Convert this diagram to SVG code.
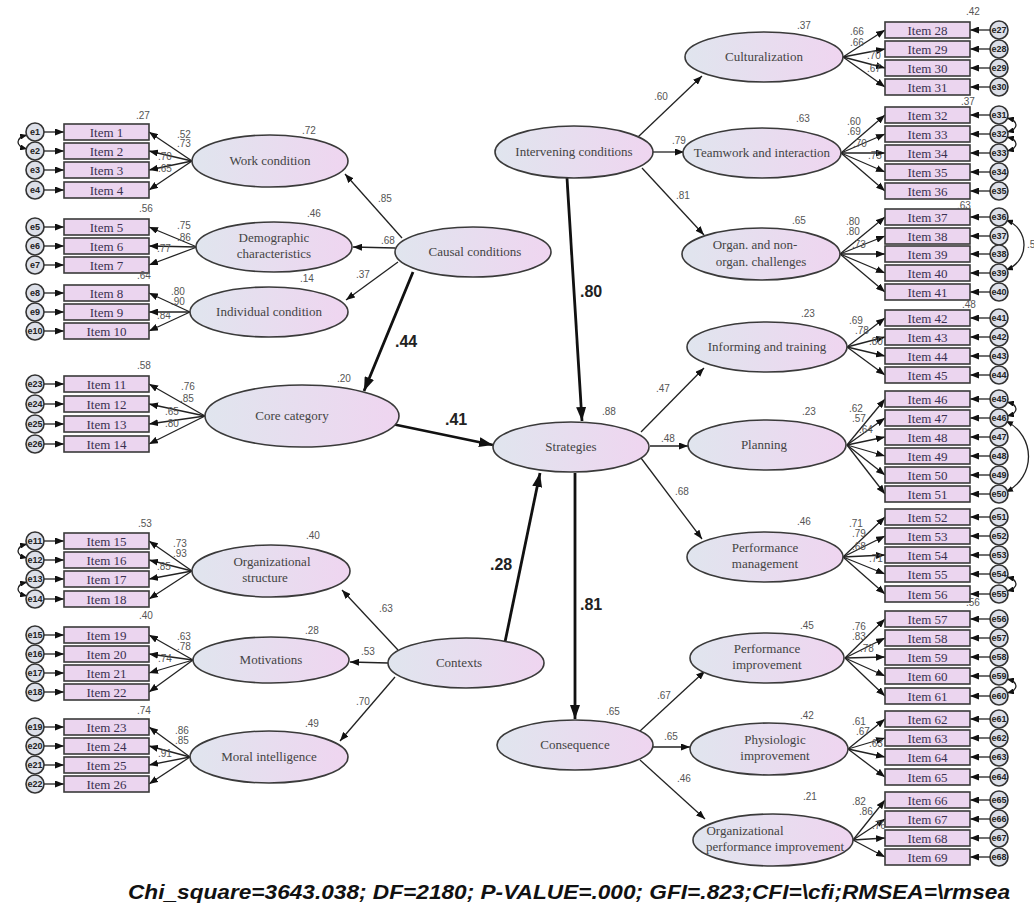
<svg xmlns="http://www.w3.org/2000/svg" width="1034" height="910" viewBox="0 0 1034 910">
<defs>
<linearGradient id="lg" x1="0" y1="0" x2="1" y2="0"><stop offset="0" stop-color="#e0e5ee"/><stop offset="1" stop-color="#efd5f0"/></linearGradient>
<marker id="ah" viewBox="0 0 10 10" refX="10" refY="5" markerWidth="9" markerHeight="7" markerUnits="userSpaceOnUse" orient="auto-start-reverse" preserveAspectRatio="none"><path d="M0,0 L10,5 L0,10 z" fill="#111"/></marker>
<marker id="ahb" viewBox="0 0 10 10" refX="10" refY="5" markerWidth="14" markerHeight="10" markerUnits="userSpaceOnUse" orient="auto" preserveAspectRatio="none"><path d="M0,0 L10,5 L0,10 z" fill="#111"/></marker>
<marker id="ahs" viewBox="0 0 10 10" refX="10" refY="5" markerWidth="7" markerHeight="6" markerUnits="userSpaceOnUse" orient="auto-start-reverse" preserveAspectRatio="none"><path d="M0,0 L10,5 L0,10 z" fill="#111"/></marker>
</defs>
<style>
.lat{fill:url(#lg);stroke:#3a3a3a;stroke-width:1.6}
.box{fill:#ebd5ef;stroke:#3a3a3a;stroke-width:1.6}
.err{fill:#dcdfe8;stroke:#333;stroke-width:1.6}
.lt{font-family:"Liberation Serif",serif;font-size:13px;fill:#444;text-anchor:middle}
.it{font-family:"Liberation Serif",serif;font-size:13px;fill:#3a3050;text-anchor:middle}
.et{font-family:"Liberation Sans",sans-serif;font-size:9px;fill:#222;text-anchor:middle;font-weight:bold}
.n{font-family:"Liberation Sans",sans-serif;font-size:10px;fill:#555}
.nb{font-family:"Liberation Sans",sans-serif;font-size:16px;font-weight:bold;fill:#222}
.c{stroke:#222;stroke-width:1.3;fill:none;marker-end:url(#ah)}
.ct{stroke:#111;stroke-width:2.8;fill:none;marker-end:url(#ahb)}
.cr{stroke:#222;stroke-width:1.3;fill:none;marker-start:url(#ahs);marker-end:url(#ahs)}
.ttl{font-family:"Liberation Sans",sans-serif;font-size:21px;font-weight:bold;font-style:italic;fill:#111}
</style>
<rect width="1034" height="910" fill="#fff"/>
<g id="connectors">
<line class="c" x1="402" y1="238" x2="345" y2="174"/>
<line class="c" x1="395" y1="248" x2="353" y2="247"/>
<line class="c" x1="398" y1="262" x2="346" y2="300"/>
<line class="ct" x1="413" y1="272" x2="364" y2="391"/>
<line class="ct" x1="567" y1="178" x2="582" y2="421"/>
<line class="ct" x1="392" y1="424" x2="493" y2="445"/>
<line class="ct" x1="505" y1="642" x2="540" y2="473"/>
<line class="ct" x1="575" y1="473" x2="575" y2="719"/>
<line class="c" x1="398" y1="650" x2="342" y2="590"/>
<line class="c" x1="388" y1="663" x2="350" y2="662"/>
<line class="c" x1="395" y1="677" x2="340" y2="741"/>
<line class="c" x1="638" y1="137" x2="702" y2="76"/>
<line class="c" x1="653" y1="152" x2="684" y2="152"/>
<line class="c" x1="642" y1="168" x2="704" y2="235"/>
<line class="c" x1="641" y1="432" x2="704" y2="368"/>
<line class="c" x1="650" y1="446" x2="688" y2="446"/>
<line class="c" x1="641" y1="458" x2="702" y2="539"/>
<line class="c" x1="640" y1="731" x2="705" y2="671"/>
<line class="c" x1="653" y1="747" x2="690" y2="747"/>
<line class="c" x1="640" y1="760" x2="705" y2="819"/>
<line class="c" x1="192" y1="161" x2="149" y2="132"/><line class="c" x1="192" y1="161" x2="149" y2="151"/><line class="c" x1="192" y1="161" x2="149" y2="170"/><line class="c" x1="192" y1="161" x2="149" y2="190"/>
<line class="c" x1="197" y1="247" x2="149" y2="227"/><line class="c" x1="197" y1="247" x2="149" y2="246"/><line class="c" x1="197" y1="247" x2="149" y2="265"/>
<line class="c" x1="190" y1="312" x2="149" y2="293"/><line class="c" x1="190" y1="312" x2="149" y2="312"/><line class="c" x1="190" y1="312" x2="149" y2="331"/>
<line class="c" x1="205" y1="416" x2="149" y2="384"/><line class="c" x1="205" y1="416" x2="149" y2="404"/><line class="c" x1="205" y1="416" x2="149" y2="424"/><line class="c" x1="205" y1="416" x2="149" y2="444"/>
<line class="c" x1="192" y1="571" x2="149" y2="541"/><line class="c" x1="192" y1="571" x2="149" y2="560"/><line class="c" x1="192" y1="571" x2="149" y2="579"/><line class="c" x1="192" y1="571" x2="149" y2="599"/>
<line class="c" x1="193" y1="660" x2="149" y2="635"/><line class="c" x1="193" y1="660" x2="149" y2="654"/><line class="c" x1="193" y1="660" x2="149" y2="673"/><line class="c" x1="193" y1="660" x2="149" y2="692"/>
<line class="c" x1="190" y1="757" x2="149" y2="727"/><line class="c" x1="190" y1="757" x2="149" y2="746"/><line class="c" x1="190" y1="757" x2="149" y2="765"/><line class="c" x1="190" y1="757" x2="149" y2="784"/>
<line class="c" x1="44" y1="132" x2="64" y2="132"/><line class="c" x1="44" y1="151" x2="64" y2="151"/><line class="c" x1="44" y1="170" x2="64" y2="170"/><line class="c" x1="44" y1="190" x2="64" y2="190"/>
<line class="c" x1="44" y1="227" x2="64" y2="227"/><line class="c" x1="44" y1="246" x2="64" y2="246"/><line class="c" x1="44" y1="265" x2="64" y2="265"/>
<line class="c" x1="44" y1="293" x2="64" y2="293"/><line class="c" x1="44" y1="312" x2="64" y2="312"/><line class="c" x1="44" y1="331" x2="64" y2="331"/>
<line class="c" x1="44" y1="384" x2="64" y2="384"/><line class="c" x1="44" y1="404" x2="64" y2="404"/><line class="c" x1="44" y1="424" x2="64" y2="424"/><line class="c" x1="44" y1="444" x2="64" y2="444"/>
<line class="c" x1="44" y1="541" x2="64" y2="541"/><line class="c" x1="44" y1="560" x2="64" y2="560"/><line class="c" x1="44" y1="579" x2="64" y2="579"/><line class="c" x1="44" y1="599" x2="64" y2="599"/>
<line class="c" x1="44" y1="635" x2="64" y2="635"/><line class="c" x1="44" y1="654" x2="64" y2="654"/><line class="c" x1="44" y1="673" x2="64" y2="673"/><line class="c" x1="44" y1="692" x2="64" y2="692"/>
<line class="c" x1="44" y1="727" x2="64" y2="727"/><line class="c" x1="44" y1="746" x2="64" y2="746"/><line class="c" x1="44" y1="765" x2="64" y2="765"/><line class="c" x1="44" y1="784" x2="64" y2="784"/>
<line class="c" x1="843" y1="57" x2="885" y2="30"/><line class="c" x1="843" y1="57" x2="885" y2="49"/><line class="c" x1="843" y1="57" x2="885" y2="68"/><line class="c" x1="843" y1="57" x2="885" y2="87"/>
<line class="c" x1="841" y1="153" x2="885" y2="115"/><line class="c" x1="841" y1="153" x2="885" y2="134"/><line class="c" x1="841" y1="153" x2="885" y2="153"/><line class="c" x1="841" y1="153" x2="885" y2="172"/><line class="c" x1="841" y1="153" x2="885" y2="191"/>
<line class="c" x1="840" y1="254" x2="885" y2="217"/><line class="c" x1="840" y1="254" x2="885" y2="236"/><line class="c" x1="840" y1="254" x2="885" y2="254"/><line class="c" x1="840" y1="254" x2="885" y2="273"/><line class="c" x1="840" y1="254" x2="885" y2="292"/>
<line class="c" x1="847" y1="347" x2="885" y2="318"/><line class="c" x1="847" y1="347" x2="885" y2="337"/><line class="c" x1="847" y1="347" x2="885" y2="356"/><line class="c" x1="847" y1="347" x2="885" y2="375"/>
<line class="c" x1="847" y1="445" x2="885" y2="399"/><line class="c" x1="847" y1="445" x2="885" y2="418"/><line class="c" x1="847" y1="445" x2="885" y2="437"/><line class="c" x1="847" y1="445" x2="885" y2="456"/><line class="c" x1="847" y1="445" x2="885" y2="475"/><line class="c" x1="847" y1="445" x2="885" y2="494"/>
<line class="c" x1="843" y1="557" x2="885" y2="517"/><line class="c" x1="843" y1="557" x2="885" y2="536"/><line class="c" x1="843" y1="557" x2="885" y2="555"/><line class="c" x1="843" y1="557" x2="885" y2="574"/><line class="c" x1="843" y1="557" x2="885" y2="594"/>
<line class="c" x1="845" y1="658" x2="885" y2="619"/><line class="c" x1="845" y1="658" x2="885" y2="638"/><line class="c" x1="845" y1="658" x2="885" y2="657"/><line class="c" x1="845" y1="658" x2="885" y2="676"/><line class="c" x1="845" y1="658" x2="885" y2="696"/>
<line class="c" x1="848" y1="749" x2="885" y2="719"/><line class="c" x1="848" y1="749" x2="885" y2="738"/><line class="c" x1="848" y1="749" x2="885" y2="757"/><line class="c" x1="848" y1="749" x2="885" y2="777"/>
<line class="c" x1="853" y1="840" x2="885" y2="800"/><line class="c" x1="853" y1="840" x2="885" y2="819"/><line class="c" x1="853" y1="840" x2="885" y2="838"/><line class="c" x1="853" y1="840" x2="885" y2="857"/>
<line class="c" x1="990" y1="30" x2="970" y2="30"/><line class="c" x1="990" y1="49" x2="970" y2="49"/><line class="c" x1="990" y1="68" x2="970" y2="68"/><line class="c" x1="990" y1="87" x2="970" y2="87"/>
<line class="c" x1="990" y1="115" x2="970" y2="115"/><line class="c" x1="990" y1="134" x2="970" y2="134"/><line class="c" x1="990" y1="153" x2="970" y2="153"/><line class="c" x1="990" y1="172" x2="970" y2="172"/><line class="c" x1="990" y1="191" x2="970" y2="191"/>
<line class="c" x1="990" y1="217" x2="970" y2="217"/><line class="c" x1="990" y1="236" x2="970" y2="236"/><line class="c" x1="990" y1="254" x2="970" y2="254"/><line class="c" x1="990" y1="273" x2="970" y2="273"/><line class="c" x1="990" y1="292" x2="970" y2="292"/>
<line class="c" x1="990" y1="318" x2="970" y2="318"/><line class="c" x1="990" y1="337" x2="970" y2="337"/><line class="c" x1="990" y1="356" x2="970" y2="356"/><line class="c" x1="990" y1="375" x2="970" y2="375"/>
<line class="c" x1="990" y1="399" x2="970" y2="399"/><line class="c" x1="990" y1="418" x2="970" y2="418"/><line class="c" x1="990" y1="437" x2="970" y2="437"/><line class="c" x1="990" y1="456" x2="970" y2="456"/><line class="c" x1="990" y1="475" x2="970" y2="475"/><line class="c" x1="990" y1="494" x2="970" y2="494"/>
<line class="c" x1="990" y1="517" x2="970" y2="517"/><line class="c" x1="990" y1="536" x2="970" y2="536"/><line class="c" x1="990" y1="555" x2="970" y2="555"/><line class="c" x1="990" y1="574" x2="970" y2="574"/><line class="c" x1="990" y1="594" x2="970" y2="594"/>
<line class="c" x1="990" y1="619" x2="970" y2="619"/><line class="c" x1="990" y1="638" x2="970" y2="638"/><line class="c" x1="990" y1="657" x2="970" y2="657"/><line class="c" x1="990" y1="676" x2="970" y2="676"/><line class="c" x1="990" y1="696" x2="970" y2="696"/>
<line class="c" x1="990" y1="719" x2="970" y2="719"/><line class="c" x1="990" y1="738" x2="970" y2="738"/><line class="c" x1="990" y1="757" x2="970" y2="757"/><line class="c" x1="990" y1="777" x2="970" y2="777"/>
<line class="c" x1="990" y1="800" x2="970" y2="800"/><line class="c" x1="990" y1="819" x2="970" y2="819"/><line class="c" x1="990" y1="838" x2="970" y2="838"/><line class="c" x1="990" y1="857" x2="970" y2="857"/>
<path class="cr" d="M27,135 C15,138 15,146 27,149"/>
<path class="cr" d="M27,544 C15,547 15,555 27,558"/>
<path class="cr" d="M27,582 C15,585 15,593 27,596"/>
<path class="cr" d="M1007,118 C1019,121 1019,129 1007,132"/>
<path class="cr" d="M1007,137 C1019,140 1019,148 1007,151"/>
<path class="cr" d="M1006,220 C1030,229 1030,261 1006,270"/>
<path class="cr" d="M1007,402 C1019,405 1019,413 1007,416"/>
<path class="cr" d="M1006,421 C1036,436 1036,477 1006,492"/>
<path class="cr" d="M1007,577 C1019,580 1019,588 1007,591"/>
<path class="cr" d="M1007,679 C1019,682 1019,690 1007,693"/>
</g>
<g id="latents">
<g id="work"><ellipse class="lat" cx="270" cy="161" rx="78" ry="26"/><text class="lt" x="270" y="165">Work condition</text></g>
<g id="demo"><ellipse class="lat" cx="274" cy="247" rx="78" ry="25"/><text class="lt" x="274" y="242">Demographic</text><text class="lt" x="274" y="258">characteristics</text></g>
<g id="indiv"><ellipse class="lat" cx="269" cy="312" rx="79" ry="25"/><text class="lt" x="269" y="316">Individual condition</text></g>
<g id="core"><ellipse class="lat" cx="302" cy="416" rx="97" ry="31"/><text class="lt" x="292" y="420">Core category</text></g>
<g id="orgstruct"><ellipse class="lat" cx="271" cy="571" rx="79" ry="26"/><text class="lt" x="272" y="566">Organizational</text><text class="lt" x="265" y="582">structure</text></g>
<g id="motiv"><ellipse class="lat" cx="271" cy="660" rx="78" ry="23"/><text class="lt" x="271" y="664">Motivations</text></g>
<g id="moral"><ellipse class="lat" cx="269" cy="757" rx="79" ry="26"/><text class="lt" x="269" y="761">Moral intelligence</text></g>
<g id="causal"><ellipse class="lat" cx="473" cy="252" rx="78" ry="25"/><text class="lt" x="475" y="256">Causal conditions</text></g>
<g id="interv"><ellipse class="lat" cx="574" cy="152" rx="79" ry="26"/><text class="lt" x="574" y="156">Intervening conditions</text></g>
<g id="strat"><ellipse class="lat" cx="571" cy="447" rx="78" ry="25"/><text class="lt" x="571" y="451">Strategies</text></g>
<g id="contexts"><ellipse class="lat" cx="466" cy="663" rx="78" ry="25"/><text class="lt" x="459" y="667">Contexts</text></g>
<g id="conseq"><ellipse class="lat" cx="575" cy="745" rx="78" ry="25"/><text class="lt" x="575" y="749">Consequence</text></g>
<g id="cult"><ellipse class="lat" cx="764" cy="57" rx="79" ry="25"/><text class="lt" x="764" y="61">Culturalization</text></g>
<g id="team"><ellipse class="lat" cx="762" cy="153" rx="79" ry="25"/><text class="lt" x="762" y="157">Teamwork and interaction</text></g>
<g id="organ"><ellipse class="lat" cx="761" cy="254" rx="79" ry="26"/><text class="lt" x="755" y="249">Organ. and non-</text><text class="lt" x="761" y="266">organ. challenges</text></g>
<g id="inform"><ellipse class="lat" cx="767" cy="347" rx="80" ry="25"/><text class="lt" x="767" y="351">Informing and training</text></g>
<g id="plan"><ellipse class="lat" cx="767" cy="445" rx="79" ry="25"/><text class="lt" x="764" y="449">Planning</text></g>
<g id="perfmgmt"><ellipse class="lat" cx="765" cy="557" rx="78" ry="25"/><text class="lt" x="765" y="552">Performance</text><text class="lt" x="765" y="568">management</text></g>
<g id="perfimp"><ellipse class="lat" cx="767" cy="658" rx="77" ry="25"/><text class="lt" x="767" y="653">Performance</text><text class="lt" x="767" y="669">improvement</text></g>
<g id="physio"><ellipse class="lat" cx="769" cy="749" rx="79" ry="26"/><text class="lt" x="775" y="744">Physiologic</text><text class="lt" x="775" y="760">improvement</text></g>
<g id="orgperf"><ellipse class="lat" cx="773" cy="840" rx="80" ry="26"/><text class="lt" x="745" y="835">Organizational</text><text class="lt" x="775" y="851">performance improvement</text></g>
</g>
<g id="items">
<g id="item1"><rect class="box" x="64" y="124" width="85" height="16"/><text class="it" x="106.5" y="136.5">Item 1</text></g>
<g id="item2"><rect class="box" x="64" y="143" width="85" height="16"/><text class="it" x="106.5" y="155.5">Item 2</text></g>
<g id="item3"><rect class="box" x="64" y="162" width="85" height="16"/><text class="it" x="106.5" y="174.5">Item 3</text></g>
<g id="item4"><rect class="box" x="64" y="182" width="85" height="16"/><text class="it" x="106.5" y="194.5">Item 4</text></g>
<g id="item5"><rect class="box" x="64" y="219" width="85" height="16"/><text class="it" x="106.5" y="231.5">Item 5</text></g>
<g id="item6"><rect class="box" x="64" y="238" width="85" height="16"/><text class="it" x="106.5" y="250.5">Item 6</text></g>
<g id="item7"><rect class="box" x="64" y="257" width="85" height="16"/><text class="it" x="106.5" y="269.5">Item 7</text></g>
<g id="item8"><rect class="box" x="64" y="285" width="85" height="16"/><text class="it" x="106.5" y="297.5">Item 8</text></g>
<g id="item9"><rect class="box" x="64" y="304" width="85" height="16"/><text class="it" x="106.5" y="316.5">Item 9</text></g>
<g id="item10"><rect class="box" x="64" y="323" width="85" height="16"/><text class="it" x="106.5" y="335.5">Item 10</text></g>
<g id="item11"><rect class="box" x="64" y="376" width="85" height="16"/><text class="it" x="106.5" y="388.5">Item 11</text></g>
<g id="item12"><rect class="box" x="64" y="396" width="85" height="16"/><text class="it" x="106.5" y="408.5">Item 12</text></g>
<g id="item13"><rect class="box" x="64" y="416" width="85" height="16"/><text class="it" x="106.5" y="428.5">Item 13</text></g>
<g id="item14"><rect class="box" x="64" y="436" width="85" height="16"/><text class="it" x="106.5" y="448.5">Item 14</text></g>
<g id="item15"><rect class="box" x="64" y="533" width="85" height="16"/><text class="it" x="106.5" y="545.5">Item 15</text></g>
<g id="item16"><rect class="box" x="64" y="552" width="85" height="16"/><text class="it" x="106.5" y="564.5">Item 16</text></g>
<g id="item17"><rect class="box" x="64" y="571" width="85" height="16"/><text class="it" x="106.5" y="583.5">Item 17</text></g>
<g id="item18"><rect class="box" x="64" y="591" width="85" height="16"/><text class="it" x="106.5" y="603.5">Item 18</text></g>
<g id="item19"><rect class="box" x="64" y="627" width="85" height="16"/><text class="it" x="106.5" y="639.5">Item 19</text></g>
<g id="item20"><rect class="box" x="64" y="646" width="85" height="16"/><text class="it" x="106.5" y="658.5">Item 20</text></g>
<g id="item21"><rect class="box" x="64" y="665" width="85" height="16"/><text class="it" x="106.5" y="677.5">Item 21</text></g>
<g id="item22"><rect class="box" x="64" y="684" width="85" height="16"/><text class="it" x="106.5" y="696.5">Item 22</text></g>
<g id="item23"><rect class="box" x="64" y="719" width="85" height="16"/><text class="it" x="106.5" y="731.5">Item 23</text></g>
<g id="item24"><rect class="box" x="64" y="738" width="85" height="16"/><text class="it" x="106.5" y="750.5">Item 24</text></g>
<g id="item25"><rect class="box" x="64" y="757" width="85" height="16"/><text class="it" x="106.5" y="769.5">Item 25</text></g>
<g id="item26"><rect class="box" x="64" y="776" width="85" height="16"/><text class="it" x="106.5" y="788.5">Item 26</text></g>
<g id="item28"><rect class="box" x="885" y="22" width="85" height="16"/><text class="it" x="927.5" y="34.5">Item 28</text></g>
<g id="item29"><rect class="box" x="885" y="41" width="85" height="16"/><text class="it" x="927.5" y="53.5">Item 29</text></g>
<g id="item30"><rect class="box" x="885" y="60" width="85" height="16"/><text class="it" x="927.5" y="72.5">Item 30</text></g>
<g id="item31"><rect class="box" x="885" y="79" width="85" height="16"/><text class="it" x="927.5" y="91.5">Item 31</text></g>
<g id="item32"><rect class="box" x="885" y="107" width="85" height="16"/><text class="it" x="927.5" y="119.5">Item 32</text></g>
<g id="item33"><rect class="box" x="885" y="126" width="85" height="16"/><text class="it" x="927.5" y="138.5">Item 33</text></g>
<g id="item34"><rect class="box" x="885" y="145" width="85" height="16"/><text class="it" x="927.5" y="157.5">Item 34</text></g>
<g id="item35"><rect class="box" x="885" y="164" width="85" height="16"/><text class="it" x="927.5" y="176.5">Item 35</text></g>
<g id="item36"><rect class="box" x="885" y="183" width="85" height="16"/><text class="it" x="927.5" y="195.5">Item 36</text></g>
<g id="item37"><rect class="box" x="885" y="209" width="85" height="16"/><text class="it" x="927.5" y="221.5">Item 37</text></g>
<g id="item38"><rect class="box" x="885" y="228" width="85" height="16"/><text class="it" x="927.5" y="240.5">Item 38</text></g>
<g id="item39"><rect class="box" x="885" y="246" width="85" height="16"/><text class="it" x="927.5" y="258.5">Item 39</text></g>
<g id="item40"><rect class="box" x="885" y="265" width="85" height="16"/><text class="it" x="927.5" y="277.5">Item 40</text></g>
<g id="item41"><rect class="box" x="885" y="284" width="85" height="16"/><text class="it" x="927.5" y="296.5">Item 41</text></g>
<g id="item42"><rect class="box" x="885" y="310" width="85" height="16"/><text class="it" x="927.5" y="322.5">Item 42</text></g>
<g id="item43"><rect class="box" x="885" y="329" width="85" height="16"/><text class="it" x="927.5" y="341.5">Item 43</text></g>
<g id="item44"><rect class="box" x="885" y="348" width="85" height="16"/><text class="it" x="927.5" y="360.5">Item 44</text></g>
<g id="item45"><rect class="box" x="885" y="367" width="85" height="16"/><text class="it" x="927.5" y="379.5">Item 45</text></g>
<g id="item46"><rect class="box" x="885" y="391" width="85" height="16"/><text class="it" x="927.5" y="403.5">Item 46</text></g>
<g id="item47"><rect class="box" x="885" y="410" width="85" height="16"/><text class="it" x="927.5" y="422.5">Item 47</text></g>
<g id="item48"><rect class="box" x="885" y="429" width="85" height="16"/><text class="it" x="927.5" y="441.5">Item 48</text></g>
<g id="item49"><rect class="box" x="885" y="448" width="85" height="16"/><text class="it" x="927.5" y="460.5">Item 49</text></g>
<g id="item50"><rect class="box" x="885" y="467" width="85" height="16"/><text class="it" x="927.5" y="479.5">Item 50</text></g>
<g id="item51"><rect class="box" x="885" y="486" width="85" height="16"/><text class="it" x="927.5" y="498.5">Item 51</text></g>
<g id="item52"><rect class="box" x="885" y="509" width="85" height="16"/><text class="it" x="927.5" y="521.5">Item 52</text></g>
<g id="item53"><rect class="box" x="885" y="528" width="85" height="16"/><text class="it" x="927.5" y="540.5">Item 53</text></g>
<g id="item54"><rect class="box" x="885" y="547" width="85" height="16"/><text class="it" x="927.5" y="559.5">Item 54</text></g>
<g id="item55"><rect class="box" x="885" y="566" width="85" height="16"/><text class="it" x="927.5" y="578.5">Item 55</text></g>
<g id="item56"><rect class="box" x="885" y="586" width="85" height="16"/><text class="it" x="927.5" y="598.5">Item 56</text></g>
<g id="item57"><rect class="box" x="885" y="611" width="85" height="16"/><text class="it" x="927.5" y="623.5">Item 57</text></g>
<g id="item58"><rect class="box" x="885" y="630" width="85" height="16"/><text class="it" x="927.5" y="642.5">Item 58</text></g>
<g id="item59"><rect class="box" x="885" y="649" width="85" height="16"/><text class="it" x="927.5" y="661.5">Item 59</text></g>
<g id="item60"><rect class="box" x="885" y="668" width="85" height="16"/><text class="it" x="927.5" y="680.5">Item 60</text></g>
<g id="item61"><rect class="box" x="885" y="688" width="85" height="16"/><text class="it" x="927.5" y="700.5">Item 61</text></g>
<g id="item62"><rect class="box" x="885" y="711" width="85" height="16"/><text class="it" x="927.5" y="723.5">Item 62</text></g>
<g id="item63"><rect class="box" x="885" y="730" width="85" height="16"/><text class="it" x="927.5" y="742.5">Item 63</text></g>
<g id="item64"><rect class="box" x="885" y="749" width="85" height="16"/><text class="it" x="927.5" y="761.5">Item 64</text></g>
<g id="item65"><rect class="box" x="885" y="769" width="85" height="16"/><text class="it" x="927.5" y="781.5">Item 65</text></g>
<g id="item66"><rect class="box" x="885" y="792" width="85" height="16"/><text class="it" x="927.5" y="804.5">Item 66</text></g>
<g id="item67"><rect class="box" x="885" y="811" width="85" height="16"/><text class="it" x="927.5" y="823.5">Item 67</text></g>
<g id="item68"><rect class="box" x="885" y="830" width="85" height="16"/><text class="it" x="927.5" y="842.5">Item 68</text></g>
<g id="item69"><rect class="box" x="885" y="849" width="85" height="16"/><text class="it" x="927.5" y="861.5">Item 69</text></g>
</g>
<g id="errors">
<g id="e1"><circle class="err" cx="35" cy="132" r="9"/><text class="et" x="35" y="135">e1</text></g>
<g id="e2"><circle class="err" cx="35" cy="151" r="9"/><text class="et" x="35" y="154">e2</text></g>
<g id="e3"><circle class="err" cx="35" cy="170" r="9"/><text class="et" x="35" y="173">e3</text></g>
<g id="e4"><circle class="err" cx="35" cy="190" r="9"/><text class="et" x="35" y="193">e4</text></g>
<g id="e5"><circle class="err" cx="35" cy="227" r="9"/><text class="et" x="35" y="230">e5</text></g>
<g id="e6"><circle class="err" cx="35" cy="246" r="9"/><text class="et" x="35" y="249">e6</text></g>
<g id="e7"><circle class="err" cx="35" cy="265" r="9"/><text class="et" x="35" y="268">e7</text></g>
<g id="e8"><circle class="err" cx="35" cy="293" r="9"/><text class="et" x="35" y="296">e8</text></g>
<g id="e9"><circle class="err" cx="35" cy="312" r="9"/><text class="et" x="35" y="315">e9</text></g>
<g id="e10"><circle class="err" cx="35" cy="331" r="9"/><text class="et" x="35" y="334" textLength="15" lengthAdjust="spacingAndGlyphs">e10</text></g>
<g id="e23"><circle class="err" cx="35" cy="384" r="9"/><text class="et" x="35" y="387" textLength="15" lengthAdjust="spacingAndGlyphs">e23</text></g>
<g id="e24"><circle class="err" cx="35" cy="404" r="9"/><text class="et" x="35" y="407" textLength="15" lengthAdjust="spacingAndGlyphs">e24</text></g>
<g id="e25"><circle class="err" cx="35" cy="424" r="9"/><text class="et" x="35" y="427" textLength="15" lengthAdjust="spacingAndGlyphs">e25</text></g>
<g id="e26"><circle class="err" cx="35" cy="444" r="9"/><text class="et" x="35" y="447" textLength="15" lengthAdjust="spacingAndGlyphs">e26</text></g>
<g id="e11"><circle class="err" cx="35" cy="541" r="9"/><text class="et" x="35" y="544" textLength="15" lengthAdjust="spacingAndGlyphs">e11</text></g>
<g id="e12"><circle class="err" cx="35" cy="560" r="9"/><text class="et" x="35" y="563" textLength="15" lengthAdjust="spacingAndGlyphs">e12</text></g>
<g id="e13"><circle class="err" cx="35" cy="579" r="9"/><text class="et" x="35" y="582" textLength="15" lengthAdjust="spacingAndGlyphs">e13</text></g>
<g id="e14"><circle class="err" cx="35" cy="599" r="9"/><text class="et" x="35" y="602" textLength="15" lengthAdjust="spacingAndGlyphs">e14</text></g>
<g id="e15"><circle class="err" cx="35" cy="635" r="9"/><text class="et" x="35" y="638" textLength="15" lengthAdjust="spacingAndGlyphs">e15</text></g>
<g id="e16"><circle class="err" cx="35" cy="654" r="9"/><text class="et" x="35" y="657" textLength="15" lengthAdjust="spacingAndGlyphs">e16</text></g>
<g id="e17"><circle class="err" cx="35" cy="673" r="9"/><text class="et" x="35" y="676" textLength="15" lengthAdjust="spacingAndGlyphs">e17</text></g>
<g id="e18"><circle class="err" cx="35" cy="692" r="9"/><text class="et" x="35" y="695" textLength="15" lengthAdjust="spacingAndGlyphs">e18</text></g>
<g id="e19"><circle class="err" cx="35" cy="727" r="9"/><text class="et" x="35" y="730" textLength="15" lengthAdjust="spacingAndGlyphs">e19</text></g>
<g id="e20"><circle class="err" cx="35" cy="746" r="9"/><text class="et" x="35" y="749" textLength="15" lengthAdjust="spacingAndGlyphs">e20</text></g>
<g id="e21"><circle class="err" cx="35" cy="765" r="9"/><text class="et" x="35" y="768" textLength="15" lengthAdjust="spacingAndGlyphs">e21</text></g>
<g id="e22"><circle class="err" cx="35" cy="784" r="9"/><text class="et" x="35" y="787" textLength="15" lengthAdjust="spacingAndGlyphs">e22</text></g>
<g id="e27"><circle class="err" cx="999" cy="30" r="9"/><text class="et" x="999" y="33" textLength="15" lengthAdjust="spacingAndGlyphs">e27</text></g>
<g id="e28"><circle class="err" cx="999" cy="49" r="9"/><text class="et" x="999" y="52" textLength="15" lengthAdjust="spacingAndGlyphs">e28</text></g>
<g id="e29"><circle class="err" cx="999" cy="68" r="9"/><text class="et" x="999" y="71" textLength="15" lengthAdjust="spacingAndGlyphs">e29</text></g>
<g id="e30"><circle class="err" cx="999" cy="87" r="9"/><text class="et" x="999" y="90" textLength="15" lengthAdjust="spacingAndGlyphs">e30</text></g>
<g id="e31"><circle class="err" cx="999" cy="115" r="9"/><text class="et" x="999" y="118" textLength="15" lengthAdjust="spacingAndGlyphs">e31</text></g>
<g id="e32"><circle class="err" cx="999" cy="134" r="9"/><text class="et" x="999" y="137" textLength="15" lengthAdjust="spacingAndGlyphs">e32</text></g>
<g id="e33"><circle class="err" cx="999" cy="153" r="9"/><text class="et" x="999" y="156" textLength="15" lengthAdjust="spacingAndGlyphs">e33</text></g>
<g id="e34"><circle class="err" cx="999" cy="172" r="9"/><text class="et" x="999" y="175" textLength="15" lengthAdjust="spacingAndGlyphs">e34</text></g>
<g id="e35"><circle class="err" cx="999" cy="191" r="9"/><text class="et" x="999" y="194" textLength="15" lengthAdjust="spacingAndGlyphs">e35</text></g>
<g id="e36"><circle class="err" cx="999" cy="217" r="9"/><text class="et" x="999" y="220" textLength="15" lengthAdjust="spacingAndGlyphs">e36</text></g>
<g id="e37"><circle class="err" cx="999" cy="236" r="9"/><text class="et" x="999" y="239" textLength="15" lengthAdjust="spacingAndGlyphs">e37</text></g>
<g id="e38"><circle class="err" cx="999" cy="254" r="9"/><text class="et" x="999" y="257" textLength="15" lengthAdjust="spacingAndGlyphs">e38</text></g>
<g id="e39"><circle class="err" cx="999" cy="273" r="9"/><text class="et" x="999" y="276" textLength="15" lengthAdjust="spacingAndGlyphs">e39</text></g>
<g id="e40"><circle class="err" cx="999" cy="292" r="9"/><text class="et" x="999" y="295" textLength="15" lengthAdjust="spacingAndGlyphs">e40</text></g>
<g id="e41"><circle class="err" cx="999" cy="318" r="9"/><text class="et" x="999" y="321" textLength="15" lengthAdjust="spacingAndGlyphs">e41</text></g>
<g id="e42"><circle class="err" cx="999" cy="337" r="9"/><text class="et" x="999" y="340" textLength="15" lengthAdjust="spacingAndGlyphs">e42</text></g>
<g id="e43"><circle class="err" cx="999" cy="356" r="9"/><text class="et" x="999" y="359" textLength="15" lengthAdjust="spacingAndGlyphs">e43</text></g>
<g id="e44"><circle class="err" cx="999" cy="375" r="9"/><text class="et" x="999" y="378" textLength="15" lengthAdjust="spacingAndGlyphs">e44</text></g>
<g id="e45"><circle class="err" cx="999" cy="399" r="9"/><text class="et" x="999" y="402" textLength="15" lengthAdjust="spacingAndGlyphs">e45</text></g>
<g id="e46"><circle class="err" cx="999" cy="418" r="9"/><text class="et" x="999" y="421" textLength="15" lengthAdjust="spacingAndGlyphs">e46</text></g>
<g id="e47"><circle class="err" cx="999" cy="437" r="9"/><text class="et" x="999" y="440" textLength="15" lengthAdjust="spacingAndGlyphs">e47</text></g>
<g id="e48"><circle class="err" cx="999" cy="456" r="9"/><text class="et" x="999" y="459" textLength="15" lengthAdjust="spacingAndGlyphs">e48</text></g>
<g id="e49"><circle class="err" cx="999" cy="475" r="9"/><text class="et" x="999" y="478" textLength="15" lengthAdjust="spacingAndGlyphs">e49</text></g>
<g id="e50"><circle class="err" cx="999" cy="494" r="9"/><text class="et" x="999" y="497" textLength="15" lengthAdjust="spacingAndGlyphs">e50</text></g>
<g id="e51"><circle class="err" cx="999" cy="517" r="9"/><text class="et" x="999" y="520" textLength="15" lengthAdjust="spacingAndGlyphs">e51</text></g>
<g id="e52"><circle class="err" cx="999" cy="536" r="9"/><text class="et" x="999" y="539" textLength="15" lengthAdjust="spacingAndGlyphs">e52</text></g>
<g id="e53"><circle class="err" cx="999" cy="555" r="9"/><text class="et" x="999" y="558" textLength="15" lengthAdjust="spacingAndGlyphs">e53</text></g>
<g id="e54"><circle class="err" cx="999" cy="574" r="9"/><text class="et" x="999" y="577" textLength="15" lengthAdjust="spacingAndGlyphs">e54</text></g>
<g id="e55"><circle class="err" cx="999" cy="594" r="9"/><text class="et" x="999" y="597" textLength="15" lengthAdjust="spacingAndGlyphs">e55</text></g>
<g id="e56"><circle class="err" cx="999" cy="619" r="9"/><text class="et" x="999" y="622" textLength="15" lengthAdjust="spacingAndGlyphs">e56</text></g>
<g id="e57"><circle class="err" cx="999" cy="638" r="9"/><text class="et" x="999" y="641" textLength="15" lengthAdjust="spacingAndGlyphs">e57</text></g>
<g id="e58"><circle class="err" cx="999" cy="657" r="9"/><text class="et" x="999" y="660" textLength="15" lengthAdjust="spacingAndGlyphs">e58</text></g>
<g id="e59"><circle class="err" cx="999" cy="676" r="9"/><text class="et" x="999" y="679" textLength="15" lengthAdjust="spacingAndGlyphs">e59</text></g>
<g id="e60"><circle class="err" cx="999" cy="696" r="9"/><text class="et" x="999" y="699" textLength="15" lengthAdjust="spacingAndGlyphs">e60</text></g>
<g id="e61"><circle class="err" cx="999" cy="719" r="9"/><text class="et" x="999" y="722" textLength="15" lengthAdjust="spacingAndGlyphs">e61</text></g>
<g id="e62"><circle class="err" cx="999" cy="738" r="9"/><text class="et" x="999" y="741" textLength="15" lengthAdjust="spacingAndGlyphs">e62</text></g>
<g id="e63"><circle class="err" cx="999" cy="757" r="9"/><text class="et" x="999" y="760" textLength="15" lengthAdjust="spacingAndGlyphs">e63</text></g>
<g id="e64"><circle class="err" cx="999" cy="777" r="9"/><text class="et" x="999" y="780" textLength="15" lengthAdjust="spacingAndGlyphs">e64</text></g>
<g id="e65"><circle class="err" cx="999" cy="800" r="9"/><text class="et" x="999" y="803" textLength="15" lengthAdjust="spacingAndGlyphs">e65</text></g>
<g id="e66"><circle class="err" cx="999" cy="819" r="9"/><text class="et" x="999" y="822" textLength="15" lengthAdjust="spacingAndGlyphs">e66</text></g>
<g id="e67"><circle class="err" cx="999" cy="838" r="9"/><text class="et" x="999" y="841" textLength="15" lengthAdjust="spacingAndGlyphs">e67</text></g>
<g id="e68"><circle class="err" cx="999" cy="857" r="9"/><text class="et" x="999" y="860" textLength="15" lengthAdjust="spacingAndGlyphs">e68</text></g>
</g>
<g id="labels">
<text class="n" x="136" y="119">.27</text><text class="n" x="302" y="134">.72</text>
<text class="n" x="177" y="138">.52</text><text class="n" x="177" y="147">.73</text><text class="n" x="158" y="160">.70</text><text class="n" x="158" y="172">.65</text>
<text class="n" x="378" y="202">.85</text><text class="n" x="139" y="212">.56</text><text class="n" x="307" y="217">.46</text>
<text class="n" x="177" y="229">.75</text><text class="n" x="177" y="241">.86</text><text class="n" x="157" y="252">.77</text>
<text class="n" x="381" y="244">.68</text><text class="n" x="137" y="279">.64</text><text class="n" x="300" y="282">.14</text><text class="n" x="356" y="278">.37</text>
<text class="n" x="171" y="295">.80</text><text class="n" x="171" y="305">.90</text><text class="n" x="157" y="319">.84</text>
<text class="n" x="137" y="369">.58</text><text class="n" x="337" y="382">.20</text>
<text class="n" x="181" y="390">.76</text><text class="n" x="180" y="402">.85</text><text class="n" x="165" y="415">.65</text><text class="n" x="165" y="427">.80</text>
<text class="n" x="138" y="527">.53</text><text class="n" x="306" y="539">.40</text>
<text class="n" x="173" y="547">.73</text><text class="n" x="173" y="557">.93</text><text class="n" x="157" y="570">.85</text>
<text class="n" x="379" y="612">.63</text><text class="n" x="139" y="619">.40</text><text class="n" x="305" y="634">.28</text>
<text class="n" x="177" y="640">.63</text><text class="n" x="177" y="650">.78</text><text class="n" x="158" y="662">.74</text>
<text class="n" x="361" y="655">.53</text><text class="n" x="356" y="705">.70</text>
<text class="n" x="137" y="714">.74</text><text class="n" x="305" y="727">.49</text>
<text class="n" x="175" y="734">.86</text><text class="n" x="175" y="744">.85</text><text class="n" x="158" y="757">.91</text>
<text class="n" x="797" y="29">.37</text><text class="n" x="966" y="15">.42</text>
<text class="n" x="850" y="35">.66</text><text class="n" x="850" y="46">.66</text><text class="n" x="867" y="59">.70</text><text class="n" x="867" y="72">.67</text>
<text class="n" x="654" y="100">.60</text><text class="n" x="672" y="144">.79</text><text class="n" x="796" y="122">.63</text>
<text class="n" x="847" y="125">.60</text><text class="n" x="847" y="135">.69</text><text class="n" x="853" y="147">.70</text><text class="n" x="868" y="159">.75</text>
<text class="n" x="961" y="105">.37</text><text class="n" x="676" y="199">.81</text><text class="n" x="957" y="209">.63</text>
<text class="n" x="792" y="224">.65</text><text class="n" x="846" y="225">.80</text><text class="n" x="846" y="235">.80</text><text class="n" x="852" y="248">.73</text>
<text class="n" x="1027" y="248">.5</text><text class="n" x="962" y="308">.48</text>
<text class="n" x="801" y="317">.23</text><text class="n" x="849" y="324">.69</text><text class="n" x="855" y="334">.78</text><text class="n" x="869" y="345">.80</text>
<text class="n" x="656" y="392">.47</text><text class="n" x="802" y="415">.23</text>
<text class="n" x="849" y="412">.62</text><text class="n" x="852" y="422">.57</text><text class="n" x="859" y="433">.64</text>
<text class="n" x="661" y="442">.48</text><text class="n" x="675" y="495">.68</text>
<text class="n" x="797" y="525">.46</text><text class="n" x="849" y="527">.71</text><text class="n" x="852" y="537">.79</text><text class="n" x="852" y="550">.68</text><text class="n" x="869" y="562">.71</text>
<text class="n" x="966" y="606">.56</text><text class="n" x="800" y="629">.45</text>
<text class="n" x="852" y="630">.76</text><text class="n" x="852" y="640">.83</text><text class="n" x="860" y="652">.78</text>
<text class="n" x="657" y="699">.67</text><text class="n" x="800" y="719">.42</text>
<text class="n" x="852" y="725">.61</text><text class="n" x="856" y="735">.67</text><text class="n" x="869" y="747">.63</text>
<text class="n" x="664" y="740">.65</text><text class="n" x="677" y="782">.46</text>
<text class="n" x="803" y="800">.21</text><text class="n" x="852" y="805">.82</text><text class="n" x="859" y="815">.86</text><text class="n" x="872" y="829">.76</text>
<text class="n" x="602" y="415">.88</text><text class="n" x="606" y="715">.65</text>
<text class="nb" x="395" y="347">.44</text><text class="nb" x="580" y="297">.80</text><text class="nb" x="445" y="425">.41</text><text class="nb" x="490" y="570">.28</text><text class="nb" x="580" y="610">.81</text>
</g>
<text class="ttl" x="128" y="899" textLength="882" lengthAdjust="spacingAndGlyphs">Chi_square=3643.038; DF=2180; P-VALUE=.000; GFI=.823;CFI=\cfi;RMSEA=\rmsea</text>
</svg>
